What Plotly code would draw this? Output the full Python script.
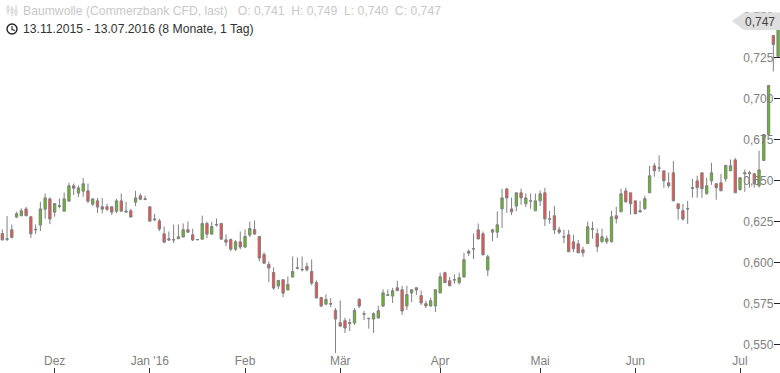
import plotly.graph_objects as go

open_ = [.6177,.6141,.6200,.6277,.6285,.6327,.6279,.6198,.6228,.6325,.6388,.6307,.6342,.6313,.6374,.6468,.6423,.6435,.6437,.6356,.6376,.6340,.6340,.6340,.6313,.6376,.6307,.6315,.6368,.6407,.6384,.6340,.6260,.6254,.6175,.6145,.6137,.6145,.6155,.6200,.6169,
 .6138,.6142,.6238,.6173,.6228,.6238,.6138,.6140,.6081,.6126,.6094,.6167,.6201,.6159,.6049,.5988,.5939,.5856,.5895,.5832,.5911,.5964,.5954,.5976,.5945,.5878,.5787,.5746,.5746,.5708,.5633,.5645,.5627,.5631,.5775,.5684,.5657,.5655,.5661,.5734,.5799,
 .5795,.5846,.5834,.5735,.5814,.5846,.5798,.5749,.5735,.5735,.5814,.5938,.5889,.5893,.5877,.5911,.6057,.6082,.6199,.6175,.5954,.6185,.6185,.6327,.6449,.6327,.6344,.6425,.6358,.6374,.6315,.6376,.6425,.6264,.6285,.6199,.6155,.6169,.6126,.6114,.6078,
 .6115,.6202,.6176,.6127,.6127,.6127,.6285,.6309,.6437,.6425,.6376,.6309,.6328,.6425,.6590,.6575,.6559,.6486,.6547,.6358,.6316,.6326,.6452,.6498,.6547,.6419,.6498,.6480,.6486,.6510,.6559,.6626,.6445,.6541,.6541,.6541,.6468,.6622,.6781,.7385,.7257]
high = [.6202,.6283,.6232,.6309,.6330,.6340,.6279,.6232,.6370,.6421,.6397,.6360,.6390,.6427,.6486,.6482,.6470,.6516,.6482,.6390,.6394,.6394,.6358,.6340,.6388,.6421,.6370,.6327,.6437,.6421,.6407,.6340,.6297,.6267,.6220,.6189,.6232,.6232,.6238,.6250,.6206,
 .6140,.6286,.6248,.6248,.6268,.6238,.6171,.6146,.6136,.6189,.6201,.6250,.6256,.6159,.6061,.6006,.5970,.5891,.5895,.5915,.6037,.6031,.6037,.6000,.6018,.5891,.5787,.5805,.5783,.5722,.5769,.5663,.5657,.5722,.5783,.5704,.5663,.5696,.5736,.5836,.5836,
 .5846,.5889,.5858,.5858,.5834,.5846,.5828,.5767,.5785,.5834,.5938,.5944,.5913,.5927,.5938,.6059,.6080,.6177,.6238,.6189,.6047,.6206,.6311,.6449,.6455,.6396,.6425,.6451,.6421,.6421,.6421,.6439,.6455,.6315,.6346,.6218,.6199,.6199,.6169,.6138,.6096,
 .6249,.6249,.6206,.6206,.6163,.6316,.6340,.6450,.6456,.6425,.6376,.6376,.6407,.6590,.6608,.6653,.6559,.6549,.6620,.6358,.6358,.6376,.6510,.6529,.6547,.6517,.6608,.6486,.6541,.6596,.6628,.6638,.6517,.6567,.6559,.6547,.6681,.6781,.7080,.7385,.7490]
low = [.6137,.6131,.6147,.6271,.6283,.6283,.6149,.6173,.6191,.6267,.6234,.6279,.6330,.6313,.6374,.6411,.6399,.6401,.6362,.6344,.6301,.6299,.6313,.6289,.6301,.6313,.6307,.6277,.6344,.6380,.6380,.6252,.6252,.6191,.6118,.6131,.6118,.6145,.6155,.6181,.6131,
 .6138,.6142,.6148,.6173,.6219,.6142,.6100,.6069,.6069,.6081,.6088,.6155,.6173,.6008,.5990,.5880,.5832,.5838,.5789,.5832,.5911,.5958,.5945,.5945,.5862,.5783,.5728,.5740,.5728,.5448,.5606,.5570,.5582,.5619,.5722,.5649,.5596,.5570,.5661,.5728,.5799,
 .5753,.5828,.5680,.5710,.5759,.5802,.5741,.5722,.5729,.5698,.5814,.5877,.5858,.5871,.5865,.5911,.6039,.6021,.6143,.6043,.5917,.6130,.6149,.6210,.6303,.6289,.6313,.6352,.6338,.6327,.6315,.6344,.6222,.6236,.6173,.6173,.6118,.6065,.6063,.6059,.6035,
 .6115,.6145,.6064,.6121,.6113,.6121,.6238,.6309,.6364,.6291,.6297,.6303,.6320,.6425,.6523,.6553,.6456,.6456,.6376,.6261,.6255,.6236,.6395,.6395,.6395,.6415,.6474,.6383,.6437,.6492,.6559,.6425,.6437,.6431,.6456,.6456,.6456,.6622,.6781,.7165,.7257]
close = [.6137,.6145,.6153,.6297,.6315,.6285,.6175,.6202,.6327,.6394,.6265,.6360,.6346,.6388,.6468,.6453,.6455,.6480,.6374,.6388,.6338,.6325,.6325,.6307,.6376,.6313,.6313,.6277,.6394,.6386,.6388,.6252,.6265,.6204,.6124,.6137,.6139,.6157,.6200,.6185,.6137,
 .6140,.6238,.6173,.6219,.6232,.6142,.6124,.6081,.6126,.6094,.6159,.6207,.6173,.6027,.5996,.5966,.5844,.5891,.5813,.5866,.5945,.5968,.5958,.5956,.5874,.5783,.5734,.5775,.5749,.5655,.5612,.5600,.5633,.5708,.5734,.5688,.5659,.5688,.5706,.5815,.5803,
 .5828,.5828,.5704,.5804,.5834,.5832,.5753,.5735,.5767,.5834,.5913,.5877,.5858,.5895,.5907,.6017,.6068,.6084,.6143,.6047,.6035,.6199,.6230,.6394,.6394,.6309,.6425,.6394,.6394,.6376,.6376,.6419,.6266,.6266,.6199,.6185,.6157,.6065,.6084,.6059,.6059,
 .6218,.6206,.6096,.6157,.6145,.6279,.6267,.6419,.6370,.6358,.6297,.6316,.6389,.6529,.6559,.6577,.6498,.6468,.6376,.6328,.6265,.6328,.6456,.6456,.6450,.6468,.6547,.6456,.6437,.6592,.6590,.6425,.6517,.6547,.6547,.6480,.6565,.6781,.7080,.7330,.7470]
sessions = list(range(len(close)))

tick_sessions = [11, 31, 51, 71, 92, 113, 133, 155]
tick_labels = ["Dez", "Jan '16", "Feb", "Mär", "Apr", "Mai", "Jun", "Jul"]
y_ticks = [0.55, 0.575, 0.6, 0.625, 0.65, 0.675, 0.7, 0.725, 0.75]
last_price = "0,747"
header = "Baumwolle (Commerzbank CFD, last)&nbsp;&nbsp;&nbsp;O: 0,741&nbsp;&nbsp;H: 0,749&nbsp;&nbsp;L: 0,740&nbsp;&nbsp;C: 0,747"
period = "13.11.2015 - 13.07.2016 (8 Monate, 1 Tag)"

FONT = "Liberation Sans, Arial, sans-serif"
GRAY = "#808080"

fig = go.Figure(go.Candlestick(
    x=sessions, open=open_, high=high, low=low, close=close,
    whiskerwidth=0,
    increasing=dict(line=dict(color=GRAY, width=1), fillcolor="#5cc212"),
    decreasing=dict(line=dict(color=GRAY, width=1), fillcolor="#ff4a4a"),
    hoverinfo="skip", showlegend=False,
))

W, H = 780, 373
def px(x): return x / W
def py(y): return 1 - y / H

shapes = [
    dict(type="path", xref="paper", yref="paper", layer="above",
         path=f"M {px(732)} {py(21)} L {px(744)} {py(12.5)} L {px(780)} {py(12.5)} L {px(780)} {py(30)} L {px(744)} {py(30)} Z",
         fillcolor="#dedede", line=dict(width=0)),
    dict(type="circle", xref="paper", yref="paper", x0=px(7), x1=px(17), y0=py(34), y1=py(24),
         line=dict(color="#222222", width=1.4)),
    dict(type="path", xref="paper", yref="paper",
         path=f"M {px(12)} {py(26)} L {px(12)} {py(29.5)} L {px(15)} {py(30.5)}",
         line=dict(color="#222222", width=1.1)),
]
for x0, a, b, c, d in [(8, 5, 7, 11, 15), (12, 6, 9, 13, 16), (16, 5, 10, 14, 16)]:
    shapes.append(dict(type="line", xref="paper", yref="paper", x0=px(x0), x1=px(x0), y0=py(a), y1=py(d),
                       line=dict(color="#cfcfcf", width=1)))
    shapes.append(dict(type="rect", xref="paper", yref="paper", x0=px(x0 - 1), x1=px(x0 + 1), y0=py(b), y1=py(c),
                       line=dict(color="#cfcfcf", width=1), fillcolor="#ffffff"))

fig.update_layout(
    width=W, height=H, margin=dict(l=0, r=0, t=0, b=0),
    paper_bgcolor="white", plot_bgcolor="white",
    font=dict(family=FONT, size=12, color=GRAY),
    separators=",.",
    showlegend=False,
    shapes=shapes,
    annotations=[
        dict(xref="paper", yref="paper", x=px(21), y=py(11), text=header, showarrow=False,
             xanchor="left", yanchor="middle", font=dict(family=FONT, size=12.2, color="#c8c8c8")),
        dict(xref="paper", yref="paper", x=px(21), y=py(29), text=period, showarrow=False,
             xanchor="left", yanchor="middle", font=dict(family=FONT, size=12.2, color="#333333")),
        dict(xref="paper", yref="paper", x=px(760), y=py(21.5), text=last_price, showarrow=False,
             xanchor="center", yanchor="middle", font=dict(family=FONT, size=12, color="#444444")),
    ],
    xaxis=dict(
        range=[-0.483, 163.4], rangeslider=dict(visible=False), showgrid=False, zeroline=False, showline=False,
        tickmode="array", tickvals=tick_sessions, ticktext=tick_labels,
        ticks="inside", ticklen=5, tickcolor="#333333", tickwidth=1,
        ticklabelposition="inside", tickfont=dict(family=FONT, size=12, color=GRAY),
    ),
    yaxis=dict(
        side="right", range=[0.5326, 0.7601], showgrid=False, zeroline=False, showline=False,
        tickmode="array", tickvals=y_ticks, tickformat=".3f",
        ticks="inside", ticklen=6, tickcolor="#222222", tickwidth=1,
        ticklabelposition="inside", tickfont=dict(family=FONT, size=12, color=GRAY),
    ),
)
fig.write_html("out.html", config=dict(displayModeBar=False),
               post_script="document.body.style.margin='0';document.body.style.overflow='hidden';")
